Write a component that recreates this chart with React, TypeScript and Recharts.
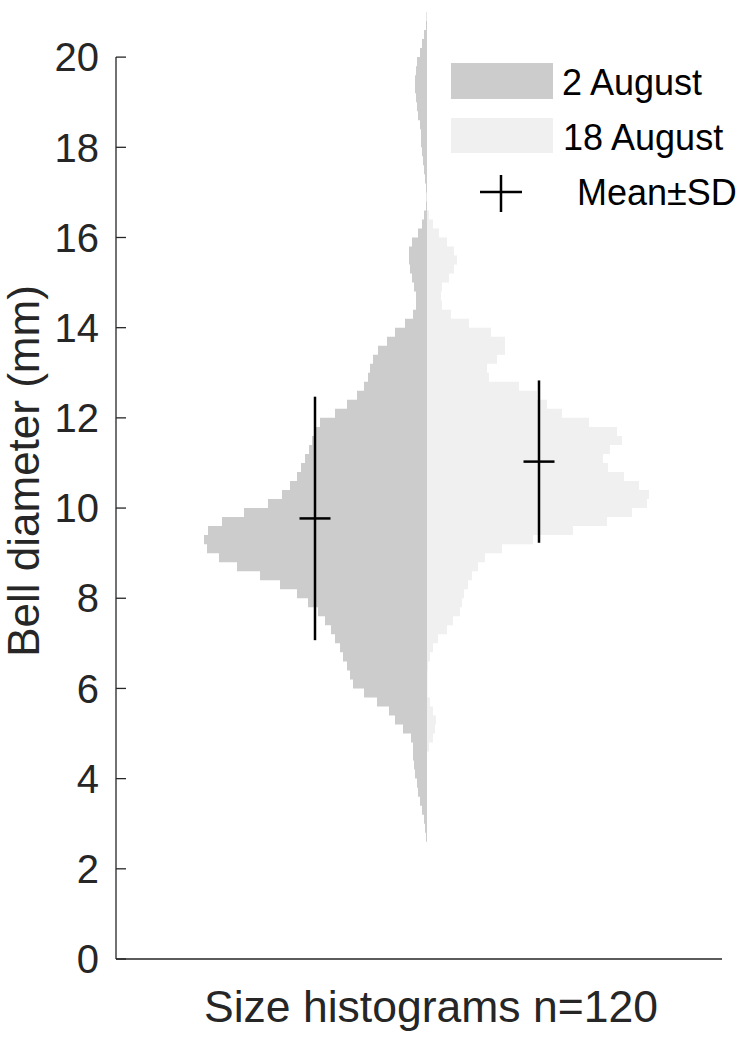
import React from 'react';
import { ComposedChart, Area, XAxis, YAxis, ReferenceLine } from 'recharts';

// Bin centres (mm), bin width 0.2 mm
const binCenters = [
  2.5, 2.7, 2.9, 3.1, 3.3, 3.5, 3.7, 3.9, 4.1, 4.3,
  4.5, 4.7, 4.9, 5.1, 5.3, 5.5, 5.7, 5.9, 6.1, 6.3,
  6.5, 6.7, 6.9, 7.1, 7.3, 7.5, 7.7, 7.9, 8.1, 8.3,
  8.5, 8.7, 8.9, 9.1, 9.3, 9.5, 9.7, 9.9, 10.1, 10.3,
  10.5, 10.7, 10.9, 11.1, 11.3, 11.5, 11.7, 11.9, 12.1, 12.3,
  12.5, 12.7, 12.9, 13.1, 13.3, 13.5, 13.7, 13.9, 14.1, 14.3,
  14.5, 14.7, 14.9, 15.1, 15.3, 15.5, 15.7, 15.9, 16.1, 16.3,
  16.5, 16.7, 16.9, 17.1, 17.3, 17.5, 17.7, 17.9, 18.1, 18.3,
  18.5, 18.7, 18.9, 19.1, 19.3, 19.5, 19.7, 19.9, 20.1, 20.3,
  20.5, 20.7, 20.9, 21.1,
];
const binWidth = 0.2;

// 2 August (drawn to the left)
const aug2 = [
  0, 0.1, 0.2, 0.3, 0.5, 0.7, 0.9, 1.0, 1.2, 1.3,
  1.4, 1.4, 1.6, 2.4, 3.2, 3.8, 5.0, 6.3, 7.4, 7.7,
  8.0, 8.4, 8.7, 9.2, 9.6, 10.2, 10.9, 11.9, 13.0, 14.7,
  16.7, 19.0, 20.8, 22.0, 22.3, 21.9, 20.5, 18.3, 15.9, 14.5,
  13.7, 13.0, 12.6, 12.2, 11.8, 11.5, 11.3, 10.7, 9.2, 8.0,
  7.0, 6.3, 5.9, 5.7, 5.4, 4.9, 4.0, 3.2, 2.2, 1.4,
  1.1, 1.1, 1.3, 1.5, 1.7, 1.8, 1.8, 1.5, 0.9, 0.5,
  0.3, 0.1, 0.05, 0.1, 0.2, 0.3, 0.4, 0.5, 0.6, 0.6,
  0.7, 0.9, 1.0, 1.1, 1.2, 1.2, 1.1, 1.0, 0.7, 0.5,
  0.3, 0.1, 0.05, 0,
];

// 18 August (drawn to the right)
const aug18 = [
  0, 0, 0, 0, 0, 0, 0, 0, 0, 0,
  0, 0.2, 0.6, 0.8, 0.9, 0.6, 0.3, 0.05, 0.05, 0.05,
  0.1, 0.3, 0.6, 1.1, 2.0, 2.6, 3.3, 3.5, 3.7, 4.1,
  4.5, 5.1, 5.8, 7.5, 10.6, 14.6, 18.0, 20.5, 22.0, 22.2,
  21.2, 19.7, 18.1, 17.6, 18.3, 19.5, 19.0, 16.2, 13.5, 12.0,
  11.0, 9.2, 6.2, 6.0, 7.0, 7.8, 7.8, 6.4, 4.2, 2.4,
  1.5, 1.4, 1.5, 2.2, 2.7, 3.0, 2.7, 2.0, 1.2, 0.6,
  0.2, 0, 0, 0, 0, 0, 0, 0, 0, 0,
  0, 0, 0, 0, 0, 0, 0, 0, 0, 0,
  0, 0, 0, 0,
];

// Mean ± SD for each date
const seriesNames = ['2 August', '18 August'];
const means = [9.77, 11.03];
const sds = [2.7, 1.8];
const markerX = [-11.2, 11.2];
const capHalf = 1.55;

const yTicks = [0, 2, 4, 6, 8, 10, 12, 14, 16, 18, 20];
const xDomain: [number, number] = [-31.1, 29.5];
const yDomain: [number, number] = [0, 21.2];
const tickLen = 1.0; // inward tick length in x-units

const AX = '#262626';
const C_AUG2 = '#cccccc';
const C_AUG18 = '#f0f0f0';

const rows: { d: number; aug2: number; aug18: number }[] = [];
binCenters.forEach((c, i) => {
  const lo = +(c - binWidth / 2).toFixed(3);
  const hi = +(c + binWidth / 2).toFixed(3);
  rows.push({ d: lo, aug2: -aug2[i], aug18: aug18[i] });
  rows.push({ d: hi, aug2: -aug2[i], aug18: aug18[i] });
});

export default function App() {
  return (
    <div
      style={{
        position: 'absolute',
        left: 0,
        top: 0,
        width: 750,
        height: 1038,
        background: '#fff',
        fontFamily: "'Liberation Sans', Arial, Helvetica, sans-serif",
      }}
    >
      <ComposedChart
        width={750}
        height={1038}
        layout="vertical"
        data={rows}
        margin={{ top: 3, right: 28, left: 0, bottom: 19 }}
      >
        <XAxis
          type="number"
          domain={xDomain}
          tick={false}
          tickLine={false}
          axisLine={{ stroke: AX, strokeWidth: 1.3 }}
          height={60}
          label={{
            value: 'Size histograms n=120',
            position: 'insideTop',
            offset: 31,
            fontSize: 44.5,
            fill: AX,
            dx: 12,
          }}
        />
        <YAxis
          type="number"
          dataKey="d"
          domain={yDomain}
          reversed
          ticks={yTicks}
          interval={0}
          width={116}
          axisLine={false}
          tickLine={false}
          tickSize={0}
          tickMargin={17}
          tick={{ fontSize: 40, fill: AX }}
          label={{
            value: 'Bell diameter (mm)',
            angle: -90,
            position: 'insideLeft',
            offset: 23,
            fontSize: 44,
            fill: AX,
            dy: -10,
            style: { textAnchor: 'middle' },
          }}
        />
        <Area
          dataKey="aug2"
          name={seriesNames[0]}
          type="linear"
          baseValue={0}
          fill={C_AUG2}
          fillOpacity={1}
          stroke="none"
          isAnimationActive={false}
        />
        <Area
          dataKey="aug18"
          name={seriesNames[1]}
          type="linear"
          baseValue={0}
          fill={C_AUG18}
          fillOpacity={1}
          stroke="none"
          isAnimationActive={false}
        />
        <ReferenceLine
          segment={[{ x: xDomain[0], y: 0 }, { x: xDomain[0], y: 20 }]}
          stroke={AX}
          strokeWidth={1.3}
          ifOverflow="visible"
        />
        {yTicks.map((t) => (
          <ReferenceLine
            key={'t' + t}
            segment={[{ x: xDomain[0], y: t }, { x: xDomain[0] + tickLen, y: t }]}
            stroke={AX}
            strokeWidth={1.3}
            ifOverflow="visible"
          />
        ))}
        {means.map((m, i) => (
          <ReferenceLine
            key={'v' + i}
            segment={[{ x: markerX[i], y: m - sds[i] }, { x: markerX[i], y: m + sds[i] }]}
            stroke="#000"
            strokeWidth={2.5}
            ifOverflow="visible"
          />
        ))}
        {means.map((m, i) => (
          <ReferenceLine
            key={'h' + i}
            segment={[{ x: markerX[i] - capHalf, y: m }, { x: markerX[i] + capHalf, y: m }]}
            stroke="#000"
            strokeWidth={2.5}
            ifOverflow="visible"
          />
        ))}
      </ComposedChart>
      <svg
        width={750}
        height={1038}
        style={{ position: 'absolute', left: 0, top: 0, pointerEvents: 'none' }}
      >
        <rect x={451} y={63} width={102} height={36} fill={C_AUG2} />
        <text x={562} y={95} fontSize={36} fill="#000">{seriesNames[0]}</text>
        <rect x={451} y={118} width={102} height={35} fill={C_AUG18} />
        <text x={563} y={150} fontSize={36} fill="#000">{seriesNames[1]}</text>
        <line x1={480} y1={192} x2={522} y2={192} stroke="#000" strokeWidth={2.5} />
        <line x1={501} y1={175} x2={501} y2={212} stroke="#000" strokeWidth={2.5} />
        <text x={577} y={205} fontSize={36} fill="#000">Mean±SD</text>
      </svg>
    </div>
  );
}
